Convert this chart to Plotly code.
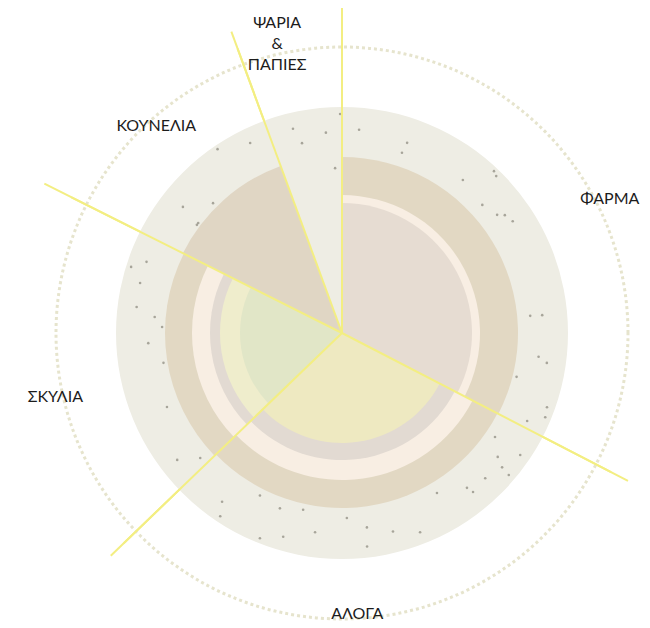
import plotly.graph_objects as go
import numpy as np

# sectors, clockwise from the top
categories = ["ΦΑΡΜΑ", "ΑΛΟΓΑ", "ΣΚΥΛΙΑ", "ΚΟΥΝΕΛΙΑ", "ΨΑΡΙΑ<br>&<br>ΠΑΠΙΕΣ"]
shares = [32.6, 30.2, 19.6, 12.0, 5.6]  # percent of the circle

# outer radius of each layer per sector (0 = layer not present)
tan_r = [176, 175, 177, 178, 0]
cream_r = [138, 147, 150, 0, 0]
mauve_r = [130, 127, 132, 0, 0]
inner_r = [0, 110, 122, 0, 0]
core_r = [0, 0, 102, 0, 0]

disk_r = 226
dotted_r = 286

# spokes between sectors
spoke_len = [333, 322, 321, 333, 321]

# speckles on the light disk
speck_theta = [18.9, 18.4, 357.6, 38.3, 43.2, 44.5, 47.6, 52.7, 54.1, 56.8, 84.8, 84.9, 96.9, 98.3,
               104.1, 109.9, 112.5, 115.4, 124.2, 128.5, 124.4, 130.0, 130.4, 135.4, 141.1, 140.5,
               149.3, 274.9, 260.5, 247.1, 232.4, 228.6, 215.4, 213.6, 206.8, 199.5, 192.4, 201.8,
               196.1, 187.7, 178.5, 172.7, 165.6, 173.3, 158.6, 287.4, 290.0, 283.9, 277.2, 271.9,
               267.0, 308.4, 307.4, 346.5, 348.1, 355.4, 334.2, 325.9, 315.2, 306.7, 4.8, 359.5]
speck_r = [201, 190, 165, 195, 222, 220, 190, 195, 201, 204, 189, 201, 198, 207,
           180, 218, 220, 205, 185, 199, 216, 209, 219, 204, 199, 206,
           186, 188, 181, 190, 208, 189, 207, 220, 182, 186, 181, 221,
           212, 201, 185, 196, 205, 215, 214, 221, 208, 208, 207, 180,
           194, 203, 181, 210, 194, 201, 211, 222, 183, 181, 204, 219]

label_theta = [63.6, 176.9, 257.2, 317.9, 347.3]
label_r = [299, 282, 294, 277, 295]

edges = np.concatenate([[0], np.cumsum(shares) * 3.6])
widths = np.diff(edges)
mids = edges[:-1] + widths / 2

SPOKE = "#f3ee82"

fig = go.Figure()


def layer(r, colors):
    fig.add_trace(go.Barpolar(
        theta=mids, r=np.array(r, dtype=float), width=widths, base=0,
        marker=dict(color=colors, line=dict(width=0)),
        hoverinfo="skip", showlegend=False))


# spokes on a flat 1px = 1 unit layer underneath, so they run past the circle
sx, sy = [], []
for a, L in zip(edges[:-1], spoke_len):
    sx += [0, L * np.sin(np.radians(a)), None]
    sy += [0, L * np.cos(np.radians(a)), None]
fig.add_trace(go.Scatter(x=sx, y=sy, mode="lines", line=dict(color=SPOKE, width=2),
                         hoverinfo="skip", showlegend=False))

# light background disk
fig.add_trace(go.Barpolar(theta=[180], r=[disk_r], width=[360], base=0,
                          marker=dict(color="#eeede4", line=dict(width=0)),
                          hoverinfo="skip", showlegend=False))
fig.add_trace(go.Scatterpolar(theta=speck_theta, r=speck_r, mode="markers",
                              marker=dict(size=2.6, color="rgba(120,116,105,0.6)"),
                              hoverinfo="skip", showlegend=False))

layer(tan_r, ["#e2d8c3", "#e2d8c3", "#e2d8c3", "#e0d6c4", "#e2d8c3"])
layer(cream_r, "#f8eee3")
layer(mauve_r, ["#e6dcd2", "#e2dad2", "#e2dad2", "#e2dad2", "#e2dad2"])
layer(inner_r, ["#eee9c1", "#eee9c1", "#efedcc", "#eee9c1", "#eee9c1"])
layer(core_r, "#e1e6c7")

# spokes on top of the rings
sp_theta, sp_r = [], []
for a, L in zip(edges[:-1], spoke_len):
    sp_theta += [a, a, None]
    sp_r += [0, L, None]
fig.add_trace(go.Scatterpolar(theta=sp_theta, r=sp_r, mode="lines",
                              line=dict(color=SPOKE, width=2),
                              hoverinfo="skip", showlegend=False))

# labels
fig.add_trace(go.Scatterpolar(theta=label_theta, r=label_r, mode="text", text=categories,
                              cliponaxis=False,
                              textfont=dict(family="Lato", size=16, color="#1c1c1c"),
                              hoverinfo="skip", showlegend=False))

fig.update_layout(
    width=650, height=628,
    margin=dict(l=0, r=0, t=0, b=0),
    paper_bgcolor="white", plot_bgcolor="rgba(0,0,0,0)",
    showlegend=False,
    xaxis=dict(domain=[0, 1], range=[-334, 316], visible=False, fixedrange=True),
    yaxis=dict(domain=[0, 1], range=[-303, 325], visible=False, fixedrange=True),
    polar=dict(
        domain=dict(x=[31 / 650, 637 / 650], y=[0, 606 / 628]),
        bgcolor="rgba(0,0,0,0)",
        barmode="overlay", bargap=0, hole=0,
        angularaxis=dict(rotation=90, direction="clockwise", showline=False,
                         showgrid=False, showticklabels=False, ticks=""),
        radialaxis=dict(range=[0, 303], showline=False, showticklabels=False, ticks="",
                        tickvals=[dotted_r], showgrid=True, gridcolor="#e6e4cd",
                        gridwidth=2.5, griddash="dot"),
    ),
)

fig.write_html("out.html")
